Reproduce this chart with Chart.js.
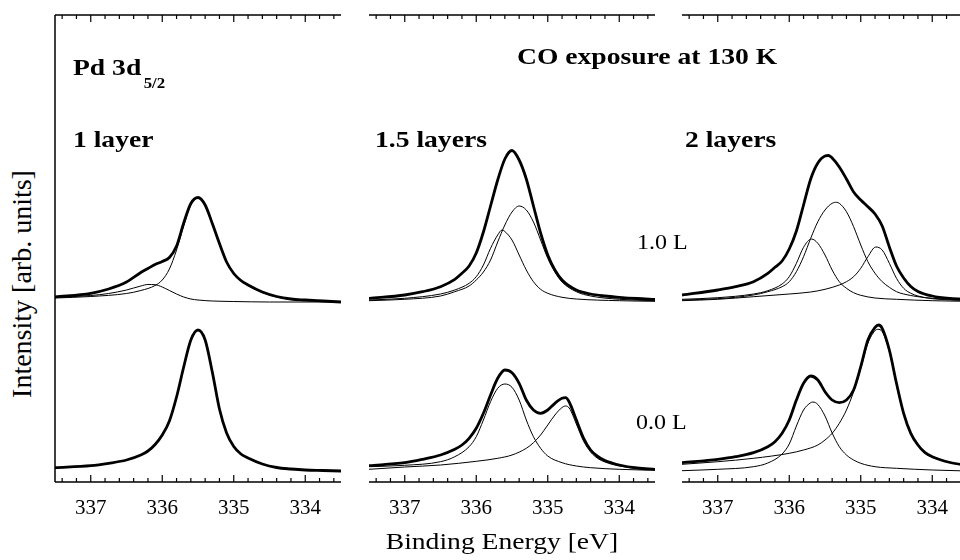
<!DOCTYPE html>
<html>
<head>
<meta charset="utf-8">
<title>Pd 3d5/2 - CO exposure at 130 K</title>
<script src="https://cdn.jsdelivr.net/npm/chart.js@4.4.1/dist/chart.umd.min.js"></script>
<style>
    html, body { margin: 0; padding: 0; background: #fff; }
    #figure { position: relative; width: 960px; height: 560px; overflow: hidden;
              font-family: "Liberation Serif", "Times New Roman", serif; color: #000; }
    .panel { position: absolute; top: 10px; width: 296px; height: 550px; }
    .lbl { position: absolute; white-space: nowrap; line-height: 1;
           transform-origin: left top; transform: scaleX(1.2); }
    .bold { font-weight: bold; font-size: 23px; }
    .dose { font-size: 20px; }
    #xtitle { position: absolute; left: 302px; top: 530px; width: 400px; text-align: center;
              font-size: 23px; line-height: 1; transform: scaleX(1.2); }
    #ytitle { position: absolute; left: -128px; top: 270px; width: 300px; height: 28px;
              line-height: 28px; text-align: center; font-size: 28px; transform: rotate(-90deg); }
</style>
</head>
<body>
<div id="figure">
    <div class="panel" style="left:50px"><canvas id="panel-1"></canvas></div>
    <div class="panel" style="left:364px"><canvas id="panel-2"></canvas></div>
    <div class="panel" style="left:677px"><canvas id="panel-3"></canvas></div>

    <div class="lbl bold" style="left:73px; top:56px">Pd 3d<span style="font-size:14px; position:relative; top:13px; margin-left:2px">5/2</span></div>
    <div class="lbl bold" style="left:73px; top:128px">1 layer</div>
    <div class="lbl bold" style="left:375px; top:128px">1.5 layers</div>
    <div class="lbl bold" style="left:685px; top:128px">2 layers</div>
    <div class="lbl bold" style="left:517px; top:45px">CO exposure at 130 K</div>
    <div class="lbl dose" style="left:637px; top:232px">1.0 L</div>
    <div class="lbl dose" style="left:636px; top:412px">0.0 L</div>
    <div id="xtitle">Binding Energy [eV]</div>
    <div id="ytitle">Intensity [arb. units]</div>
</div>

<script>
// Axis range (eV) and tick labels
const energyMin = 333.5;
const energyMax = 337.5;
const energyTicks = [337, 336, 335, 334];
const intensityMax = 467;

// Spectra: [binding energy, intensity]
// upper trace = 1.0 L CO, lower trace = 0.0 L

// 1 layer
const p1TopData = [[337.5,185],[337.0,188.7],[336.75,193],[336.5,200],[336.3,209.5],[336.2,213.5],[336.1,217.5],[336.0,220.5],[335.9,224.5],[335.8,236],[335.7,259],[335.6,278.5],[335.5,284.5],[335.4,277],[335.3,258.5],[335.2,238.5],[335.1,220],[335.0,208.5],[334.9,201.5],[334.8,197],[334.6,190],[334.4,185.5],[334.2,183],[334.0,182],[333.75,181],[333.5,180]];
const p1TopMain = [[337.5,184],[337.0,185.5],[336.5,188.5],[336.3,191.5],[336.1,196.5],[336.0,202],[335.9,213],[335.8,232],[335.7,256],[335.6,277],[335.5,284],[335.4,277],[335.3,258.5],[335.2,238],[335.1,219.5],[335.0,208],[334.9,201],[334.8,196.5],[334.6,189.5],[334.4,185],[334.2,182.5],[334.0,181.5],[333.75,180.5],[333.5,180]];
const p1TopShift = [[337.5,184.5],[337.0,186.5],[336.75,188.5],[336.5,192],[336.3,196],[336.2,197.5],[336.1,197.3],[336.0,195],[335.9,191.5],[335.8,188],[335.7,185],[335.6,183],[335.5,182],[335.3,181],[335.0,180.5],[334.5,180],[333.5,180]];
const p1BotData = [[337.5,14.3],[337.0,16.3],[336.75,18.7],[336.5,22],[336.3,27],[336.2,31],[336.1,37.5],[336.0,47],[335.9,61],[335.8,85],[335.7,115],[335.6,142],[335.5,152],[335.4,142],[335.3,110],[335.2,73],[335.1,49],[335.0,35.5],[334.9,28],[334.8,24],[334.6,18],[334.4,14.5],[334.2,13],[334.0,12],[333.75,11.5],[333.5,11]];

// 1.5 layers
const p2TopData = [[337.5,183.7],[337.0,187],[336.75,190.3],[336.5,195.3],[336.3,202.7],[336.2,208.7],[336.1,216],[336.0,229],[335.9,250],[335.8,276],[335.7,302],[335.6,323],[335.5,331.5],[335.4,322],[335.3,303],[335.2,276],[335.1,249],[335.0,227],[334.9,212],[334.8,202],[334.6,192],[334.4,188],[334.2,186],[334.0,184.7],[333.75,183.5],[333.5,182.7]];
const p2TopA = [[337.5,182],[337.0,183.7],[336.5,188],[336.3,192],[336.1,198.7],[336.0,205.3],[335.9,217],[335.8,233.7],[335.7,247],[335.64,252],[335.6,250.5],[335.5,242],[335.4,227],[335.3,212],[335.2,200.3],[335.1,192.7],[335.0,188.7],[334.8,184.7],[334.6,183],[334.0,181.3],[333.5,180.7]];
const p2TopB = [[337.5,181.3],[337.0,182.7],[336.5,186],[336.3,190.3],[336.1,196],[336.0,202],[335.9,210],[335.8,222],[335.7,240],[335.6,257],[335.5,270],[335.4,276],[335.3,272],[335.2,260],[335.1,242],[335.0,223.7],[334.9,210],[334.8,200],[334.6,190.3],[334.4,186],[334.0,182.7],[333.5,181.3]];
const p2BotData = [[337.5,16.3],[337.0,19.3],[336.75,22.7],[336.5,27],[336.3,32.7],[336.2,37],[336.1,43.7],[336.0,53.7],[335.9,68.7],[335.8,87],[335.7,103.7],[335.6,112],[335.5,109.3],[335.4,98.7],[335.3,82],[335.2,72],[335.1,68.7],[335.0,72],[334.9,78.7],[334.8,83.7],[334.75,84.3],[334.7,80],[334.6,62],[334.5,44],[334.4,32],[334.3,25.5],[334.2,21.5],[334.1,19],[334.0,17],[333.75,14],[333.5,12.7]];
const p2BotA = [[337.5,15.3],[337.0,16.7],[336.5,20.3],[336.3,25.3],[336.1,35.3],[336.0,45.3],[335.9,62],[335.8,80.3],[335.7,93.7],[335.6,98],[335.5,94.7],[335.4,82],[335.3,62],[335.2,45.3],[335.1,33.7],[335.0,26],[334.8,19.3],[334.6,16],[334.4,14.3],[334.0,12.7],[333.5,11.7]];
const p2BotB = [[337.5,12.7],[337.0,15],[336.5,17],[336.0,20.7],[335.7,23.7],[335.5,27],[335.3,33.7],[335.2,39.3],[335.1,47],[335.0,57],[334.9,67],[334.8,74.5],[334.75,76],[334.7,74],[334.6,58],[334.5,41],[334.4,30],[334.3,23.5],[334.2,20],[334.0,16],[333.75,13.5],[333.5,12.5]];

// 2 layers
const p3TopData = [[337.5,187],[337.0,192],[336.75,195.3],[336.5,200.3],[336.3,208.7],[336.2,214.7],[336.1,221],[336.0,233],[335.9,251],[335.8,277],[335.7,303],[335.6,319],[335.5,326],[335.45,326.5],[335.4,324],[335.3,315],[335.2,303],[335.1,290],[335.0,282],[334.9,275.3],[334.8,268],[334.7,256],[334.6,235],[334.5,216],[334.4,204],[334.3,195.5],[334.2,190.5],[334.0,186],[333.75,183.5],[333.5,182.5]];
const p3TopC1 = [[337.5,182.7],[337.0,184.3],[336.5,188],[336.3,191.3],[336.1,198],[336.0,205.3],[335.9,218.7],[335.8,234.7],[335.69,243],[335.6,238.7],[335.5,227],[335.4,212],[335.3,200.3],[335.2,193.7],[335.1,189.3],[335.0,186.7],[334.8,184],[334.5,182.7],[334.0,181.3],[333.5,180.7]];
const p3TopC2 = [[337.5,182],[337.0,183.3],[336.5,187],[336.3,190.3],[336.1,195.3],[336.0,200.3],[335.9,210.3],[335.8,225.3],[335.7,243.7],[335.6,260.3],[335.5,272],[335.4,278.7],[335.34,279.7],[335.3,278.7],[335.2,270.3],[335.1,255.3],[335.0,237],[334.9,220.3],[334.8,208.7],[334.7,200.3],[334.6,194.7],[334.5,190.3],[334.4,188],[334.2,185.3],[334.0,183.7],[333.5,182]];
const p3TopC3 = [[337.5,181.3],[337.0,182.7],[336.5,185.3],[336.0,188],[335.7,190],[335.5,192.7],[335.3,197],[335.2,200.3],[335.1,205.3],[335.0,213.7],[334.9,225.3],[334.79,235],[334.7,232],[334.6,218.7],[334.5,203.7],[334.4,193.7],[334.3,188.7],[334.2,186],[334.0,183.3],[333.5,181.5]];
const p3BotData = [[337.5,19.3],[337.0,22.7],[336.75,25.3],[336.5,29.3],[336.3,35.3],[336.2,40.3],[336.1,48.7],[336.0,62],[335.9,82],[335.8,98.7],[335.7,106],[335.6,102],[335.5,90.3],[335.4,82],[335.3,79.3],[335.2,82],[335.1,92],[335.0,115.3],[334.9,142],[334.8,154.7],[334.75,157],[334.7,153.7],[334.6,132],[334.5,98.7],[334.4,68.7],[334.3,48.7],[334.2,37],[334.1,29.3],[334.0,25.3],[333.75,19.5],[333.5,16.5]];
const p3BotC1 = [[337.5,11.3],[337.0,12.7],[336.5,15.3],[336.3,19],[336.1,28],[336.0,38],[335.9,56],[335.8,72],[335.7,79.3],[335.67,80],[335.6,77.5],[335.5,66],[335.4,49],[335.3,35.3],[335.2,27],[335.1,22],[335.0,18.7],[334.8,15.3],[334.5,13.7],[334.0,12],[333.5,11]];
const p3BotC2 = [[337.5,17.7],[337.0,20.3],[336.5,23.7],[336.0,28.7],[335.8,32],[335.6,37],[335.5,42],[335.4,48.7],[335.3,58.7],[335.2,72],[335.1,90.3],[335.0,113.7],[334.9,138.7],[334.8,151.3],[334.76,152.7],[334.7,150.3],[334.6,130.3],[334.5,97],[334.4,68],[334.3,48],[334.2,36.3],[334.1,28.7],[334.0,24.7],[333.75,19.5],[333.5,16.2]];

// Frame: top and bottom axis lines with inward ticks every 0.2 eV
const framePlugin = {
    id: 'frame',
    afterDatasetsDraw(chart, args, opts) {
        const { ctx, chartArea: a } = chart;
        const x = chart.scales.x;
        ctx.save();
        ctx.strokeStyle = '#000';
        ctx.lineWidth = 1.5;
        ctx.beginPath();
        ctx.moveTo(a.left, a.top); ctx.lineTo(a.right, a.top);
        ctx.moveTo(a.left, a.bottom); ctx.lineTo(a.right, a.bottom);
        if (opts.leftAxis) { ctx.moveTo(a.left, a.top); ctx.lineTo(a.left, a.bottom); }
        ctx.stroke();
        ctx.lineWidth = 1.2;
        ctx.beginPath();
        for (let i = Math.ceil(energyMin * 5); i <= Math.floor(energyMax * 5); i++) {
            const px = x.getPixelForValue(i / 5);
            const len = i % 5 === 0 ? 7 : 4;
            ctx.moveTo(px, a.bottom); ctx.lineTo(px, a.bottom - len);
            ctx.moveTo(px, a.top); ctx.lineTo(px, a.top + len);
        }
        ctx.stroke();
        ctx.restore();
    }
};

function drawPanel(id, curves, leftAxis) {
    new Chart(document.getElementById(id), {
        type: 'line',
        data: {
            datasets: curves.map(c => ({
                data: c.points.map(([e, v]) => ({ x: e, y: v })),
                borderColor: '#000',
                borderWidth: c.measured ? 2.8 : 1,
                pointRadius: 0,
                cubicInterpolationMode: 'monotone',
                fill: false
            }))
        },
        options: {
            responsive: true,
            maintainAspectRatio: false,
            animation: false,
            layout: { padding: { left: 5, right: 5, top: 5, bottom: 0 } },
            plugins: {
                legend: { display: false },
                tooltip: { enabled: false },
                frame: { leftAxis: leftAxis }
            },
            scales: {
                x: {
                    type: 'linear',
                    reverse: true,
                    min: energyMin,
                    max: energyMax,
                    grid: { display: false, drawTicks: false },
                    border: { display: false },
                    afterBuildTicks: s => { s.ticks = energyTicks.map(v => ({ value: v })); },
                    afterFit: s => { s.height = 78; },
                    ticks: {
                        color: '#000',
                        padding: 14,
                        autoSkip: false,
                        maxRotation: 0,
                        font: { family: 'Liberation Serif', size: 21 }
                    }
                },
                y: { display: false, min: 0, max: intensityMax }
            }
        },
        plugins: [framePlugin]
    });
}

drawPanel('panel-1', [
    { points: p1TopShift }, { points: p1TopMain }, { points: p1TopData, measured: true },
    { points: p1BotData, measured: true }
], true);

drawPanel('panel-2', [
    { points: p2TopA }, { points: p2TopB }, { points: p2TopData, measured: true },
    { points: p2BotA }, { points: p2BotB }, { points: p2BotData, measured: true }
], false);

drawPanel('panel-3', [
    { points: p3TopC1 }, { points: p3TopC2 }, { points: p3TopC3 }, { points: p3TopData, measured: true },
    { points: p3BotC1 }, { points: p3BotC2 }, { points: p3BotData, measured: true }
], false);
</script>
</body>
</html>
